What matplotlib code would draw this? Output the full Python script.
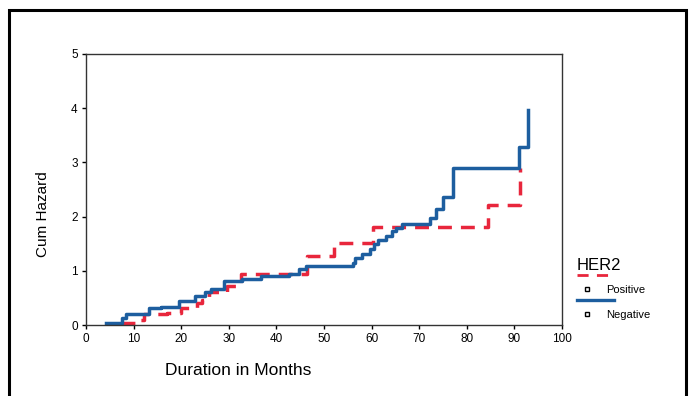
import matplotlib
matplotlib.use("Agg")
import matplotlib.pyplot as plt
from matplotlib.lines import Line2D
from matplotlib.patches import Rectangle

# Cumulative hazard step data
neg_months = [4.2, 7.6, 8.4, 13.3, 15.8, 19.6, 23.0, 25.0, 26.3, 29.0, 32.8, 36.8,
              42.7, 44.8, 46.3, 56.0, 56.5, 58.0, 59.6, 60.6, 61.3, 63.1, 64.2,
              65.2, 66.3, 72.2, 73.6, 75.0, 77.0, 91.0, 92.8]
neg_hazard = [0.04, 0.13, 0.20, 0.31, 0.33, 0.44, 0.54, 0.60, 0.66, 0.81, 0.85, 0.90,
              0.94, 1.03, 1.08, 1.15, 1.24, 1.31, 1.40, 1.50, 1.56, 1.65, 1.74,
              1.79, 1.87, 1.98, 2.14, 2.36, 2.89, 3.28, 3.96]

pos_months = [7.4, 10.7, 12.2, 17.0, 20.0, 23.4, 24.4, 25.9, 29.7, 32.6, 46.5,
              52.2, 60.3, 84.4, 91.2]
pos_hazard = [0.04, 0.10, 0.20, 0.23, 0.32, 0.40, 0.47, 0.60, 0.72, 0.94, 1.27,
              1.52, 1.80, 2.22, 2.90]

x_ticks = [0, 10, 20, 30, 40, 50, 60, 70, 80, 90, 100]
y_ticks = [0, 1, 2, 3, 4, 5]

RED = "#e8263c"
BLUE = "#1d5e9f"

plt.rcParams["font.family"] = ["Liberation Sans", "DejaVu Sans"]

fig = plt.figure(figsize=(6.92, 3.96), dpi=100)
ax = fig.add_axes([86 / 692, 1 - 325 / 396, (562 - 86) / 692, (325 - 54) / 396])

ax.step(pos_months, pos_hazard, where="post", color=RED, lw=2.5,
        dashes=(4, 2.6), solid_joinstyle="miter")
ax.step(neg_months, neg_hazard, where="post", color=BLUE, lw=2.5)

ax.set_xlim(0, 100)
ax.set_ylim(0, 5)
ax.set_xticks(x_ticks)
ax.set_yticks(y_ticks)
ax.tick_params(labelsize=8.5, length=3, width=1, colors="black", pad=3)
for s in ax.spines.values():
    s.set_linewidth(1.0)
    s.set_color("#333333")

ax.set_xlabel("Duration in Months", fontsize=12.5)
ax.xaxis.set_label_coords(0.32, -0.14)
ax.set_ylabel("Cum Hazard", fontsize=11,
              family=["Liberation Sans Narrow", "Liberation Sans", "DejaVu Sans"])
ax.yaxis.set_label_coords(-0.075, 0.41)

# legend drawn by hand to match the SPSS layout
fig.text(577 / 692, 1 - 265 / 396, "HER2", fontsize=12, va="center", ha="left")
fig.add_artist(Line2D([577 / 692, 612 / 692], [1 - 275 / 396] * 2, color=RED, lw=2,
                      dashes=(4, 3), transform=fig.transFigure))
fig.add_artist(Line2D([587 / 692], [1 - 289 / 396], marker="s", ms=3.5, mfc="white",
                      mec="black", mew=1, transform=fig.transFigure))
fig.text(606 / 692, 1 - 290 / 396, "Positive", fontsize=8, va="center", ha="left")
fig.add_artist(Line2D([577 / 692, 614 / 692], [1 - 300 / 396] * 2, color=BLUE, lw=2.4,
                      transform=fig.transFigure))
fig.add_artist(Line2D([587 / 692], [1 - 314 / 396], marker="s", ms=3.5, mfc="white",
                      mec="black", mew=1, transform=fig.transFigure))
fig.text(606 / 692, 1 - 315 / 396, "Negative", fontsize=8, va="center", ha="left")

# outer frame (bottom edge falls outside the image)
fig.add_artist(Rectangle((9 / 692, -0.1), (686 - 9) / 692, 1.1 - 9.5 / 396,
                         transform=fig.transFigure, fill=False, ec="black", lw=2.2))

fig.savefig("out.png", dpi=100)
